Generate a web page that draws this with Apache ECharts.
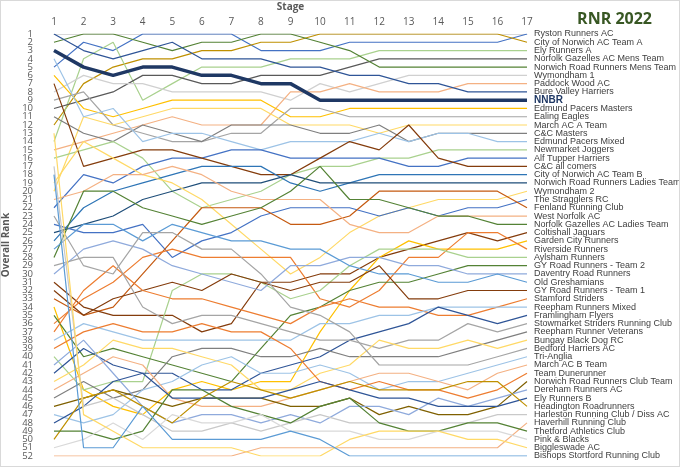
<!DOCTYPE html>
<html lang="en">
<head>
<meta charset="UTF-8">
<title>RNR 2022</title>
<script src="https://cdn.jsdelivr.net/npm/echarts@6/dist/echarts.min.js"></script>
<style>
  html, body { margin: 0; padding: 0; background: #fff; }
  #main { width: 678px; height: 465px; border: 1px solid #d9d9d9; }
</style>
</head>
<body>
<div id="main"></div>
<script>
// stages along the top
var stages = ['1','2','3','4','5','6','7','8','9','10','11','12','13','14','15','16','17'];

// rank tick labels down the left
var rankLabels = ['1','2','3','4','5','6','7','8','9','10','11','12','13','14','15','16','17','18','19','20',
  '21','22','23','24','25','26','27','28','29','30','31','32','33','34','35','36','37','38','39','40',
  '41','42','43','44','45','46','47','48','49','50','51','52'];

// teams in final order (rank at stage 17)
var teams = [
  'Ryston Runners AC', 'City of Norwich AC Team A', 'Ely Runners A', 'Norfolk Gazelles AC Mens Team',
  'Norwich Road Runners Mens Team', 'Wymondham 1', 'Paddock Wood AC', 'Bure Valley Harriers', 'NNBR',
  'Edmund Pacers Masters', 'Ealing Eagles', 'March AC A Team', 'C&C Masters', 'Edmund Pacers Mixed',
  'Newmarket Joggers', 'Alf Tupper Harriers', 'C&C all comers', 'City of Norwich AC Team B',
  'Norwich Road Runners Ladies Team', 'Wymondham 2', 'The Stragglers RC', 'Fenland Running Club',
  'West Norfolk AC', 'Norfolk Gazelles AC Ladies Team', 'Coltishall Jaguars', 'Garden City Runners',
  'Riverside Runners', 'Aylsham Runners', 'GY Road Runners - Team 2', 'Daventry Road Runners',
  'Old Greshamians', 'GY Road Runners - Team 1', 'Stamford Striders', 'Reepham Runners Mixed',
  'Framlingham Flyers', 'Stowmarket Striders Running Club', 'Reepham Runner Veterans', 'Bungay Black Dog RC',
  'Bedford Harriers AC', 'Tri-Anglia', 'March AC B Team', 'Team Dunerunner', 'Norwich Road Runners Club Team',
  'Dereham Runners AC', 'Ely Runners B', 'Headington Roadrunners', 'Harleston Running Club / Diss AC',
  'Haverhill Running Club', 'Thetford Athletics Club', 'Pink & Blacks', 'Biggleswade AC',
  'Bishops Stortford Running Club'
];

// overall rank after each stage, one row per team (same order as teams)
var ranks = [
  [5,2,3,1,1,1,1,3,3,3,2,2,2,2,2,2,1],
  [12,7,5,4,4,3,3,2,2,1,1,1,1,1,1,1,2],
  [14,4,2,9,7,5,5,5,4,4,4,3,3,3,3,3,3],
  [10,9,8,6,6,7,7,6,6,6,5,4,4,4,4,4,4],
  [2,1,1,2,3,2,2,1,1,2,3,5,5,5,5,5,5],
  [8,6,7,7,8,8,8,8,9,7,8,7,6,6,6,6,6],
  [15,14,13,12,11,12,12,12,8,8,7,8,8,8,7,7,7],
  [1,3,4,3,2,4,4,4,5,5,6,6,7,7,8,8,8],
  [3,5,6,5,5,6,6,7,7,9,9,9,9,9,9,9,9],
  [6,10,11,10,9,9,9,9,11,11,10,10,10,10,10,10,10],
  [9,8,12,13,14,14,13,13,10,10,11,11,11,11,11,11,11],
  [20,11,12,11,10,10,10,10,12,12,12,13,12,12,12,12,12],
  [11,13,14,12,13,14,12,12,12,13,13,12,14,13,13,13,13],
  [4,11,10,14,13,13,14,15,14,14,14,13,14,13,13,14,14],
  [16,15,14,16,20,22,21,20,18,17,17,16,16,15,15,15,15],
  [22,18,19,17,16,16,15,15,16,16,16,16,17,17,16,16,16],
  [7,17,16,15,15,16,17,18,18,16,14,15,12,16,17,17,17],
  [26,22,20,19,18,17,17,17,19,20,19,18,18,18,18,18,18],
  [25,24,23,21,20,19,19,19,18,19,19,19,19,19,19,19,19],
  [19,14,16,18,19,21,24,27,30,28,25,23,22,21,21,21,20],
  [24,25,25,24,28,26,25,23,22,22,22,23,22,23,22,22,21],
  [33,35,34,30,26,22,22,22,24,24,23,20,20,20,20,20,22],
  [21,20,18,18,17,18,20,21,21,21,24,25,25,23,23,23,23],
  [28,20,20,22,23,24,23,22,20,17,21,21,22,23,23,24,24],
  [31,34,35,35,35,37,36,31,31,30,30,28,27,26,25,26,25],
  [34,44,46,47,44,43,44,43,43,37,32,28,26,27,27,27,26],
  [36,33,31,28,27,28,28,28,28,33,34,32,28,28,25,25,27],
  [40,44,43,43,32,30,30,31,33,32,29,27,27,27,28,28,28],
  [35,40,39,40,41,42,43,39,35,34,32,31,31,30,29,29,29],
  [30,27,26,27,29,30,31,32,29,29,28,28,29,29,30,30,30],
  [27,24,24,26,24,25,26,26,27,27,29,30,30,31,31,30,31],
  [32,35,33,32,31,32,30,31,32,31,31,29,33,33,32,32,32],
  [37,32,29,32,33,33,34,35,36,34,33,34,34,35,35,34,33],
  [38,36,37,38,38,38,38,38,38,36,36,35,35,34,34,34,34],
  [42,39,41,42,42,44,44,42,41,40,38,37,36,34,35,36,35],
  [29,28,28,34,36,35,35,36,37,38,38,39,38,38,36,37,36],
  [45,43,45,44,40,39,39,40,40,39,40,40,40,40,39,38,37],
  [43,41,38,39,39,40,41,44,44,42,41,38,39,39,38,39,38],
  [23,29,30,25,25,27,27,30,34,35,37,41,41,41,41,40,39],
  [47,48,47,44,43,41,40,42,42,41,42,44,43,43,42,41,40],
  [44,42,40,41,45,46,46,46,45,44,43,42,42,43,44,42,41],
  [39,37,36,37,37,36,37,37,39,43,44,43,44,44,45,44,42],
  [46,45,44,45,46,45,45,45,46,46,45,47,46,47,47,46,43],
  [41,38,42,46,48,47,47,48,47,48,46,46,47,45,46,45,44],
  [48,46,43,42,45,45,45,45,44,43,44,45,45,46,46,46,45],
  [50,45,44,46,48,45,43,44,45,44,43,44,44,44,43,43,46],
  [17,46,45,47,49,49,48,49,48,47,48,48,48,48,48,47,47],
  [52,52,52,52,52,52,52,51,51,51,51,51,51,51,51,51,48],
  [49,49,50,49,44,44,46,47,48,46,45,48,49,49,48,48,49],
  [51,50,48,50,47,48,48,47,49,49,49,50,50,49,49,49,50],
  [13,47,49,51,51,51,51,52,52,52,50,49,49,49,50,50,51],
  [18,51,51,46,50,50,50,50,49,50,52,52,52,52,52,52,52]
];

// line colours, same order as teams
var colors = [
  '#4472C4','#BF9000','#A9D18E','#595959','#548235','#D0D0D0','#F4B183','#2F5597','#1F3864',
  '#FFC000','#A5A5A5','#FFD966','#7F7F7F','#9DC3E6','#A9D18E','#4472C4','#843C0C','#2E75B6',
  '#1F4E79','#FFD966','#4472C4','#C55A11','#F4B183','#548235','#843C0C','#FFC000','#ED7D31',
  '#A9D18E','#548235','#8FAADC','#5B9BD5','#843C0C','#ED7D31','#9DC3E6','#2F5597','#A5A5A5',
  '#7F7F7F','#FFD966','#A5A5A5','#9DC3E6','#F4B183','#ED7D31','#7F6000','#8FAADC','#2F5597',
  '#BF9000','#C9C9C9','#F4B183','#548235','#D9D9D9','#FFD966','#5B9BD5'
];

var labelFont = 'Liberation Sans';

var myChart = echarts.init(document.getElementById('main'));

// ranks go on a category axis, so pass them as the category strings
var series = teams.map(function (name, i) {
  var hero = name === 'NNBR';
  return {
    name: name,
    type: 'line',
    data: ranks[i].map(String),
    symbol: 'none',
    z: hero ? 10 : 2,
    lineStyle: { color: colors[i], width: hero ? 3.5 : 1.2 },
    emphasis: { disabled: true }
  };
});

var option = {
  animation: false,
  title: {
    text: 'RNR 2022',
    right: 22,
    top: 5,
    textStyle: { color: '#385723', fontSize: 16, fontWeight: 'bold', fontFamily: 'Open Sans' }
  },
  grid: { left: 53, right: 152, top: 33, bottom: 10, containLabel: false, outerBoundsMode: 'none' },
  xAxis: {
    type: 'category',
    data: stages,
    boundaryGap: false,
    position: 'top',
    name: 'Stage',
    nameLocation: 'middle',
    nameGap: 20,
    nameTextStyle: { color: '#595959', fontWeight: 'bold', fontSize: 10, fontFamily: 'Open Sans' },
    axisTick: { show: false },
    axisLine: { show: true, lineStyle: { color: '#d9d9d9' } },
    axisLabel: { color: '#595959', fontSize: 10, margin: 7, fontFamily: 'Open Sans' },
    splitLine: { show: false }
  },
  yAxis: [{
    type: 'category',
    data: rankLabels,
    inverse: true,
    boundaryGap: false,
    name: 'Overall Rank',
    nameLocation: 'middle',
    nameGap: 26,
    nameRotate: 90,
    nameTextStyle: { color: '#595959', fontWeight: 'bold', fontSize: 10, fontFamily: 'Open Sans' },
    axisLine: { show: false },
    axisTick: { show: false },
    splitLine: { show: false },
    axisLabel: { interval: 0, color: '#595959', fontSize: 9.5, margin: 21, fontFamily: 'Open Sans' }
  }, {
    type: 'category',
    data: teams,
    inverse: true,
    boundaryGap: false,
    position: 'right',
    axisLine: { show: false },
    axisTick: { show: false },
    splitLine: { show: false },
    axisLabel: {
      interval: 0,
      margin: 7,
      align: 'left',
      color: '#404040',
      fontSize: 9,
      fontFamily: labelFont,
      formatter: function (n) {
        return n === 'NNBR' ? '{b|' + n + '}' : n;
      },
      rich: { b: { color: '#1F3864', fontWeight: 'bold', fontSize: 10, fontFamily: labelFont } }
    }
  }],
  series: series
};

myChart.setOption(option);
</script>
</body>
</html>
